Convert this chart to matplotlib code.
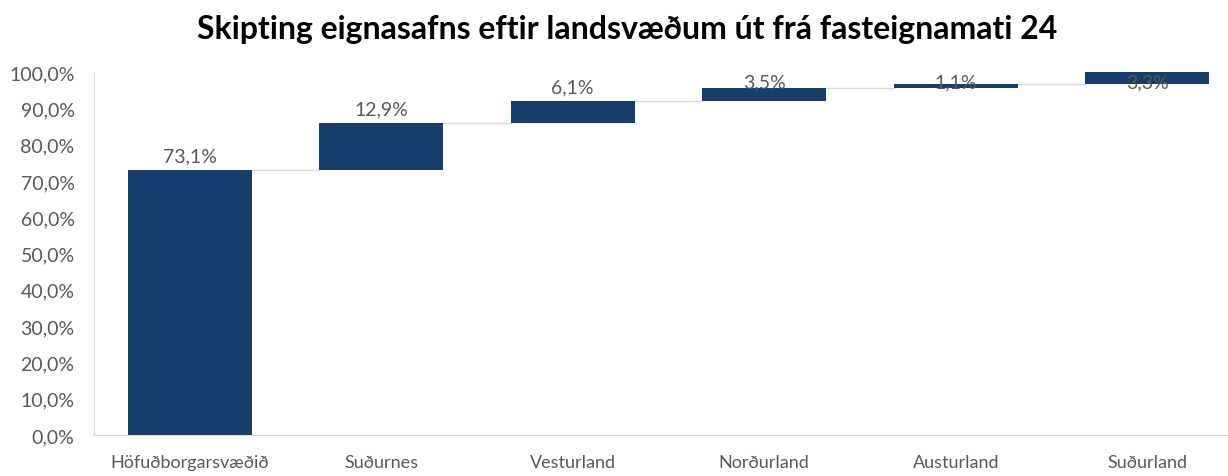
import matplotlib.pyplot as plt
import matplotlib.ticker as mtick
import numpy as np

# data
regions = ["Höfuðborgarsvæðið", "Suðurnes", "Vesturland", "Norðurland", "Austurland", "Suðurland"]
shares = [73.1, 12.9, 6.1, 3.5, 1.1, 3.3]
yticks = [0, 10, 20, 30, 40, 50, 60, 70, 80, 90, 100]

plt.rcParams["font.family"] = ["Lato", "DejaVu Sans"]

bar_color = "#163d6c"
text_color = "#595959"

tops = np.cumsum(shares)
bottoms = tops - np.array(shares)
x = np.arange(len(regions))
width = 0.65

fig = plt.figure(figsize=(12.28, 4.77), dpi=100)
ax = fig.add_axes([94 / 1228, 41 / 477, 1149 / 1228, 363 / 477])

ax.bar(x, shares, bottom=bottoms, width=width, color=bar_color, zorder=2)

# connector lines between bars
for i in range(len(x) - 1):
    ax.plot([x[i] + width / 2, x[i + 1] - width / 2], [tops[i], tops[i]],
            color="#d9d9d9", linewidth=1.0, zorder=1)

# value labels (Excel pushes the upper ones down under the plot top)
for xi, top, val in zip(x, tops, shares):
    ly = min(top + 3.9, 97.3)
    ax.text(xi, ly, f"{val:.1f}%".replace(".", ","), ha="center", va="center",
            fontsize=14, color=text_color, zorder=3)

ax.set_xlim(-0.5, len(regions) - 0.5)
ax.set_ylim(0, 100)
ax.set_yticks(yticks)
ax.yaxis.set_major_formatter(mtick.FuncFormatter(lambda v, _: f"{v:.1f}%".replace(".", ",")))
ax.set_xticks(x)
ax.set_xticklabels(regions)
ax.tick_params(axis="both", length=0, labelcolor=text_color)
ax.tick_params(axis="x", pad=14, labelsize=13)
ax.tick_params(axis="y", pad=14, labelsize=14)

for side in ["top", "right"]:
    ax.spines[side].set_visible(False)
ax.spines["left"].set_color("#d9d9d9")
ax.spines["bottom"].set_color("#d9d9d9")

fig.text(627 / 1228, 1 - 30 / 477, "Skipting eignasafns eftir landsvæðum út frá fasteignamati 24",
         ha="center", va="center", fontsize=23, fontweight="bold", color="black")

fig.savefig("out.png", dpi=100)
